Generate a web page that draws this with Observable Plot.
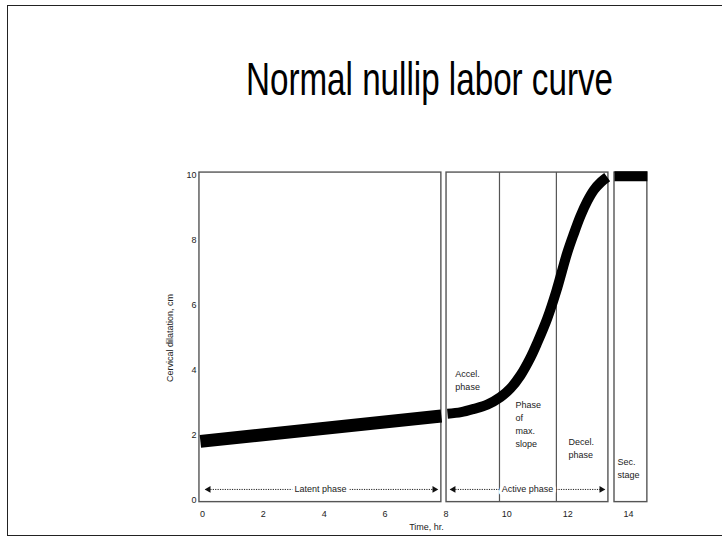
<!DOCTYPE html>
<html><head><meta charset="utf-8">
<script src="https://cdn.jsdelivr.net/npm/d3@7"></script>
<script src="https://cdn.jsdelivr.net/npm/@observablehq/plot@0.6"></script>
<style>
body{margin:0;background:#fff;}
#wrap{position:relative;width:722px;height:544px;overflow:hidden;background:#fff;}
#frame{position:absolute;left:7px;top:5px;width:720px;height:531px;border:1.5px solid #222;box-sizing:border-box;}
#title{position:absolute;left:246px;top:56px;font:46px/46px "Liberation Sans",Arial,sans-serif;white-space:nowrap;transform-origin:0 0;color:#000;}
#chart{position:absolute;left:0;top:0;}
</style></head><body>
<div id="wrap"><div id="frame"></div><div id="title">Normal nullip labor curve</div><div id="chart"></div></div>
<script>
// ticks
const xTicks = [0, 2, 4, 6, 8, 10, 12, 14];
const yTicks = [0, 2, 4, 6, 8, 10];
// latent phase (time hr, dilatation cm)
const latentTime = [-0.07, 7.85];
const latentDil = [1.82, 2.6];
// active phase
const activeTime = [8.05, 8.5, 8.92, 9.36, 9.79, 10.12, 10.45, 10.78, 11.0, 11.33, 11.63, 11.98, 12.2, 12.42, 12.64, 12.86, 13.1, 13.3];
const activeDil  = [2.67, 2.72, 2.82, 2.95, 3.18, 3.45, 3.85, 4.4, 4.85, 5.6, 6.45, 7.6, 8.2, 8.75, 9.2, 9.55, 9.8, 9.95];
// second stage
const secondTime = [13.54, 14.62];
const secondDil = [9.98, 9.98];
// panels
const panelStart = [-0.1, 8.02, 13.54];
const panelEnd = [7.85, 13.34, 14.62];
const dividerTime = [9.76, 11.63];
// phase labels
const phaseLabels = ["Accel.\nphase", "Phase\nof\nmax.\nslope", "Decel.\nphase", "Sec.\nstage"];
const phaseX = [8.31, 10.29, 12.03, 13.64];
const phaseY = [4.09, 3.14, 2.0, 1.38];
// span arrows
const spanLabels = ["Latent phase", "Active phase"];
const spanStart = [0.1, 8.15];
const spanEnd = [7.72, 13.21];
const spanMid = [3.88, 10.68];
// axis titles
const xTitle = "Time, hr.";
const yTitle = "Cervical dilatation, cm";

const latent = latentTime.map((t, i) => ({t, d: latentDil[i]}));
const active = activeTime.map((t, i) => ({t, d: activeDil[i]}));
const second = secondTime.map((t, i) => ({t, d: secondDil[i]}));
const panels = panelStart.map((s, i) => ({s, e: panelEnd[i]}));
const phases = phaseLabels.map((l, i) => ({l, x: phaseX[i], y: phaseY[i]}));
const spans = spanLabels.map((l, i) => ({l, s: spanStart[i], e: spanEnd[i], m: spanMid[i]}));
const yLow = -0.05, yTop = 10.09, yArrow = 0.34;

const chart = Plot.plot({
  width: 722, height: 544,
  marginLeft: 202, marginRight: 94, marginTop: 175, marginBottom: 44,
  style: {fontFamily: '"Liberation Sans", Arial, sans-serif', fontSize: "9px", color: "#222", background: "transparent"},
  x: {domain: [0, 14]},
  y: {domain: [0, 10]},
  marks: [
    Plot.axisX({ticks: xTicks, tickSize: 0, tickPadding: 10, fontSize: 9, label: null}),
    Plot.axisY({ticks: yTicks, tickSize: 0, tickPadding: 6, fontSize: 9, label: yTitle, labelAnchor: "center", labelOffset: 36, labelArrow: "none"}),
    Plot.text([xTitle], {frameAnchor: "bottom", dy: 29, dx: 11, fontSize: 9, fill: "#222"}),
    Plot.rect(panels, {x1: "s", x2: "e", y1: yLow, y2: yTop, fill: "none", stroke: "#555", strokeWidth: 1.4}),
    Plot.ruleX(dividerTime, {y1: yLow, y2: yTop, stroke: "#555", strokeWidth: 1.2}),
    Plot.line(latent, {x: "t", y: "d", stroke: "#000", strokeWidth: 13, strokeLinecap: "butt"}),
    Plot.line(active, {x: "t", y: "d", curve: "catmull-rom", stroke: "#000", strokeWidth: 10, strokeLinecap: "butt"}),
    Plot.line(second, {x: "t", y: "d", stroke: "#000", strokeWidth: 10, strokeLinecap: "butt"}),
    Plot.link(spans, {x1: "s", x2: "e", y1: yArrow, y2: yArrow, stroke: "#222", strokeWidth: 1, strokeDasharray: "1.2 1.2"}),
    Plot.dot(spans, {x: "s", y: yArrow, symbol: "triangle2", rotate: -90, r: 3.2, fill: "#111", dx: 3}),
    Plot.dot(spans, {x: "e", y: yArrow, symbol: "triangle2", rotate: 90, r: 3.2, fill: "#111", dx: -3}),
    Plot.text(spans, {x: "m", y: yArrow, text: "l", fontSize: 9, fill: "#222", stroke: "white", strokeWidth: 6}),
    Plot.text(phases, {x: "x", y: "y", text: "l", fontSize: 9, fill: "#222", textAnchor: "start", lineAnchor: "top", lineHeight: 1.45})
  ]
});
document.getElementById("chart").appendChild(chart);
const title = document.getElementById("title");
const w = title.getBoundingClientRect().width;
title.style.transform = `scaleX(${367 / w})`;
</script>
</body></html>
